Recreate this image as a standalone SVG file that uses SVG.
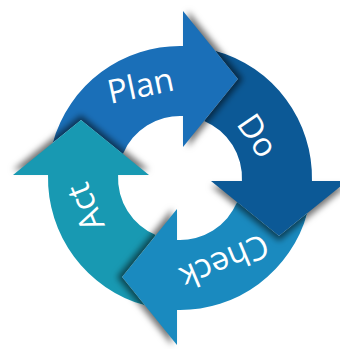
<svg xmlns="http://www.w3.org/2000/svg" xmlns:xlink="http://www.w3.org/1999/xlink" width="340" height="349" viewBox="0 0 340 349">
  <style>
    .lbl { font-family: "Open Sans", "Noto Sans", "DejaVu Sans", sans-serif; font-size: 33px; font-weight: 500; fill: #ffffff; text-anchor: middle; }
    .plan { fill: #1a6fb8; }
    .do { fill: #0c5996; }
    .check { fill: #1a8abf; }
    .act { fill: #1899b2; }
  </style>
  <defs>
    <!-- all shapes in the local frame of the "Plan" arrow, origin at ring centre -->
    <path id="band" d="M -57.11,-24.12 L -99,-58 L -127.23,-35.17 A 132 132 0 0 1 3,-131.97 L 3,-61.93 A 62 62 0 0 0 -57.11,-24.12 Z"/>
    <path id="head" d="M 3,-167 L 58,-99 L 3,-31 Z"/>
    <path id="prevhead" d="M -167,-3 L -99,-58 L -31,-3 Z"/>
    <clipPath id="clipBand" clipPathUnits="userSpaceOnUse">
      <use xlink:href="#band"/>
    </clipPath>
    <clipPath id="clipOut" clipPathUnits="userSpaceOnUse">
      <path clip-rule="evenodd" d="M -400,-400 H 400 V 400 H -400 Z M 132,0 A 132 132 0 1 0 -132,0 A 132 132 0 1 0 132,0 Z M 62,0 A 62 62 0 1 0 -62,0 A 62 62 0 1 0 62,0 Z"/>
    </clipPath>
    <filter id="shHead" x="-50%" y="-50%" width="200%" height="200%">
      <feGaussianBlur in="SourceAlpha" stdDeviation="3"/>
      <feOffset dx="5" dy="0" result="b"/>
      <feFlood flood-color="#000" flood-opacity="0.55"/>
      <feComposite in2="b" operator="in"/>
    </filter>
    <filter id="shPrev" x="-50%" y="-50%" width="200%" height="200%">
      <feGaussianBlur in="SourceAlpha" stdDeviation="3"/>
      <feOffset dx="0" dy="-5" result="b"/>
      <feFlood flood-color="#000" flood-opacity="0.55"/>
      <feComposite in2="b" operator="in"/>
    </filter>
  </defs>

  <g id="plan">
    <g transform="translate(180,178)">
      <use xlink:href="#band" class="plan"/>
      <g clip-path="url(#clipBand)"><use xlink:href="#prevhead" filter="url(#shPrev)"/></g>
      <g clip-path="url(#clipOut)"><use xlink:href="#head" filter="url(#shHead)"/></g>
      <use xlink:href="#head" class="plan"/>
    </g>
    <text class="lbl" transform="translate(143,97) rotate(-12)">Plan</text>
  </g>

  <g id="do">
    <g transform="translate(180,178) rotate(90)">
      <use xlink:href="#band" class="do"/>
      <g clip-path="url(#clipBand)"><use xlink:href="#prevhead" filter="url(#shPrev)"/></g>
      <g clip-path="url(#clipOut)"><use xlink:href="#head" filter="url(#shHead)"/></g>
      <use xlink:href="#head" class="do"/>
    </g>
    <text class="lbl" transform="translate(248,142) rotate(56)">Do</text>
  </g>

  <g id="check">
    <g transform="translate(180,178) rotate(180)">
      <use xlink:href="#band" class="check"/>
      <g clip-path="url(#clipBand)"><use xlink:href="#prevhead" filter="url(#shPrev)"/></g>
      <g clip-path="url(#clipOut)"><use xlink:href="#head" filter="url(#shHead)"/></g>
      <use xlink:href="#head" class="check"/>
    </g>
    <text class="lbl" transform="translate(220,251) rotate(157)">Check</text>
  </g>

  <g id="act">
    <g transform="translate(180,178) rotate(270)">
      <use xlink:href="#band" class="act"/>
      <g clip-path="url(#clipBand)"><use xlink:href="#prevhead" filter="url(#shPrev)"/></g>
      <g clip-path="url(#clipOut)"><use xlink:href="#head" filter="url(#shHead)"/></g>
      <use xlink:href="#head" class="act"/>
    </g>
    <text class="lbl" transform="translate(96,203) rotate(-112)">Act</text>
  </g>

  <g id="connectors"/>
</svg>
